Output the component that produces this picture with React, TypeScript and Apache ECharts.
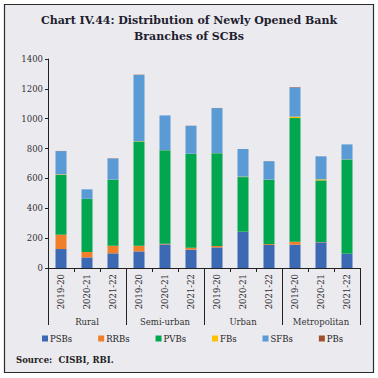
import React, { useEffect, useRef } from "react";
import * as echarts from "echarts";

const years = ["2019-20", "2020-21", "2021-22"];
const groups = ["Rural", "Semi-urban", "Urban", "Metropolitan"];
const categories = groups.flatMap((g) => years.map((y) => `${g}|${y}`));

const seriesNames = ["PSBs", "RRBs", "PVBs", "FBs", "SFBs", "PBs"];
const PSBs = [127, 71, 98, 111, 158, 123, 138, 241, 154, 156, 172, 94];
const RRBs = [96, 36, 51, 38, 5, 13, 10, 2, 6, 20, 2, 1];
const PVBs = [400, 355, 442, 699, 625, 628, 620, 366, 431, 828, 413, 632];
const FBs = [4, 1, 1, 2, 1, 1, 1, 3, 1, 10, 7, 1];
const SFBs = [156, 64, 141, 443, 233, 187, 302, 185, 123, 195, 154, 100];
const PBs = [1, 0, 2, 2, 0, 1, 1, 0, 1, 3, 0, 0];
const yTicks = [0, 200, 400, 600, 800, 1000, 1200, 1400];

const colors = ["#3b69b3", "#f07f2a", "#00a74f", "#ffc000", "#5b9bd5", "#a0502f"];
const FONT = "DejaVu Serif";

export default function App() {
  const ref = useRef<HTMLDivElement>(null);
  useEffect(() => {
    if (!ref.current) return;
    const chart = echarts.init(ref.current, null, { renderer: "svg" });
    const values = [PSBs, RRBs, PVBs, FBs, SFBs, PBs];
    chart.setOption({
      animation: false,
      backgroundColor: "#ffffff",
      textStyle: { fontFamily: FONT },
      graphic: [
        {
          type: "rect",
          shape: { x: 4.5, y: 4.5, width: 369, height: 368 },
          style: { fill: "#ebeaef", stroke: "#2a2a2a", lineWidth: 1.2 },
          z: -10,
          silent: true,
        },
      ],
      title: [
        {
          text: "Chart IV.44: Distribution of Newly Opened Bank\nBranches of SCBs",
          left: "center",
          top: 7,
          textStyle: {
            fontFamily: FONT,
            fontWeight: "bold",
            fontSize: 11,
            lineHeight: 16,
            color: "#1e1e2e",
            align: "center",
          },
        },
        {
          text: "{b|Source:} {n|CISBI, RBI.}",
          left: 11,
          top: 346,
          textStyle: {
            rich: {
              b: { fontFamily: FONT, fontWeight: "bold", fontSize: 8.5, color: "#222" },
              n: { fontFamily: FONT, fontSize: 8.5, color: "#222" },
            },
          },
        },
      ],
      legend: {
        data: seriesNames,
        left: 37,
        top: 329,
        itemWidth: 6,
        itemHeight: 6,
        itemGap: 26,
        icon: "rect",
        textStyle: { fontFamily: FONT, fontSize: 8.5, color: "#222", padding: [0, 0, 0, -3] },
      },
      grid: { left: 48, right: 18, top: 59, bottom: 110, containLabel: false },
      xAxis: [
        {
          type: "category",
          data: categories,
          position: "bottom",
          axisLine: { lineStyle: { color: "#222", width: 1 } },
          axisTick: { show: true, length: 4, lineStyle: { color: "#222" } },
          axisLabel: {
            rotate: 90,
            interval: 0,
            margin: 6,
            fontFamily: FONT,
            fontSize: 8.5,
            color: "#333",
            formatter: (v: string) => v.split("|")[1],
          },
        },
        {
          type: "category",
          data: groups,
          position: "bottom",
          axisLine: { show: false },
          axisTick: { show: true, length: 57, lineStyle: { color: "#222" } },
          axisLabel: {
            interval: 0,
            margin: 49,
            fontFamily: FONT,
            fontSize: 8.5,
            color: "#333",
          },
        },
      ],
      yAxis: {
        type: "value",
        min: 0,
        max: yTicks[yTicks.length - 1],
        interval: 200,
        axisLine: { show: true, lineStyle: { color: "#222" } },
        axisTick: { show: true, length: 3, lineStyle: { color: "#222" } },
        splitLine: { show: false },
        axisLabel: {
          fontFamily: FONT,
          fontSize: 8.5,
          color: "#333",
          margin: 5,
          formatter: (v: number) => String(v),
        },
      },
      series: seriesNames.map((name, i) => ({
        name,
        type: "bar",
        stack: "total",
        xAxisIndex: 0,
        barWidth: 11,
        data: values[i],
        itemStyle: { color: colors[i] },
      })),
    });
    return () => chart.dispose();
  }, []);
  return (
    <div
      ref={ref}
      style={{ position: "fixed", left: 0, top: 0, width: 378, height: 378 }}
    />
  );
}
